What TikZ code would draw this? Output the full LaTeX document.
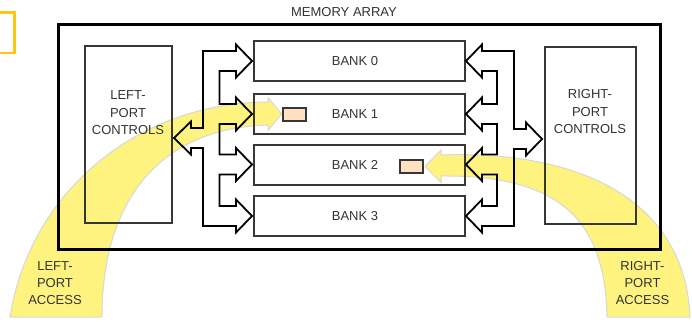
\documentclass[tikz,border=0pt]{standalone}
\usepackage{fontspec}
\setmainfont{Liberation Sans}
\definecolor{textgray}{RGB}{51,51,51}
\definecolor{boxgray}{RGB}{55,55,55}
\definecolor{hiyellow}{RGB}{255,243,128}
\definecolor{hiedge}{RGB}{215,215,215}
\definecolor{cellfill}{RGB}{255,224,192}
\definecolor{gold}{RGB}{255,197,20}
\begin{document}
\begin{tikzpicture}[x=1pt,y=-1pt,
  txt/.style={font=\fontsize{13}{17.5}\selectfont, text=textgray, align=center, inner sep=0pt},
  box/.style={draw=boxgray, line width=1.4pt, inner sep=0pt},
  bank/.style={box, minimum width=211pt, minimum height=40pt},
  ctrl/.style={box, minimum height=177pt},
  cell/.style={draw=boxgray, line width=1.2pt, fill=cellfill, inner sep=0pt,
               minimum width=23pt, minimum height=13pt},
  bus/.style={draw=black, line width=1.8pt, line join=miter},
  access/.style={fill=hiyellow, draw=hiedge, line width=1pt}]
\useasboundingbox (0,0) rectangle (692,321);

% corner mark
\draw[gold, line width=2.5pt] (0,12.5) -- (14.5,12.5) -- (14.5,53) -- (0,53);

% access paths (drawn first, so everything else sits on top)
\draw[access] (10,317) .. controls (30,190) and (140,102) .. (268,102)
  -- (268,97.5) -- (281.5,114) -- (268,130.5) -- (268,125)
  .. controls (160,128) and (102,200) .. (102,317) -- cycle;
\draw[access] (607,317) .. controls (605,220) and (560,175) .. (441,176)
  -- (441,182.5) -- (425,166.5) -- (441,150) -- (441,155)
  .. controls (580,150) and (685,200) .. (690,317) -- cycle;

% memory array frame
\draw[black, line width=3pt] (58.5,24.5) rectangle (660,249);
\node[txt] (title) at (344,12) {MEMORY ARRAY};

% port controls
\node[ctrl, minimum width=87pt] (lctrl) at (128.5,134.5) {};
\node[txt] (lctrltext) at (128,113) {LEFT-\\PORT\\CONTROLS};
\node[ctrl, minimum width=91pt] (rctrl) at (590.5,135.5) {};
\node[txt] (rctrltext) at (590,112) {RIGHT-\\PORT\\CONTROLS};

% banks
\node[bank] (bank0) at (359.5,61) {};
\node[bank] (bank1) at (359.5,114) {};
\node[bank] (bank2) at (359.5,165) {};
\node[bank] (bank3) at (359.5,216) {};
\node[txt] (bank0text) at (355,61) {BANK 0};
\node[txt] (bank1text) at (355,114) {BANK 1};
\node[txt] (bank2text) at (355,165) {BANK 2};
\node[txt] (bank3text) at (355,216) {BANK 3};

% accessed cells
\node[cell] (cell1) at (294.5,114.5) {};
\node[cell] (cell2) at (411.5,166.5) {};

% left-port bus
\draw[bus] (203,51) -- (236,51) -- (236,44.5) -- (252,61) -- (236,77.5) -- (236,71)
  -- (219.5,71) -- (219.5,104) -- (236,104) -- (236,97.5) -- (252,114) -- (236,130.5)
  -- (236,124) -- (219.5,124) -- (219.5,154.5) -- (236,154.5) -- (236,148)
  -- (252,164.5) -- (236,181) -- (236,174.5) -- (219.5,174.5) -- (219.5,206)
  -- (236,206) -- (236,199.5) -- (252,216) -- (236,232.5) -- (236,226)
  -- (203,226) -- (203,148) -- (191,148) -- (191,154.5) -- (174,138)
  -- (191,121.5) -- (191,128) -- (203,128) -- cycle;

% right-port bus
\draw[bus] (514,51) -- (482,51) -- (482,44.5) -- (466,61) -- (482,77.5) -- (482,71)
  -- (497,71) -- (497,104) -- (482,104) -- (482,97.5) -- (466,114) -- (482,130.5)
  -- (482,124) -- (497,124) -- (497,154.5) -- (482,154.5) -- (482,148)
  -- (466,164.5) -- (482,181) -- (482,174.5) -- (497,174.5) -- (497,206)
  -- (482,206) -- (482,199.5) -- (466,216) -- (482,232.5) -- (482,226)
  -- (514,226) -- (514,149) -- (526,149) -- (526,155.5) -- (542,139)
  -- (526,122.5) -- (526,129) -- (514,129) -- cycle;

% access labels
\node[txt, font=\fontsize{13}{17}\selectfont] (lacc) at (55,283) {LEFT-\\PORT\\ACCESS};
\node[txt, font=\fontsize{13}{17}\selectfont] (racc) at (642.5,283) {RIGHT-\\PORT\\ACCESS};
\end{tikzpicture}
\end{document}
